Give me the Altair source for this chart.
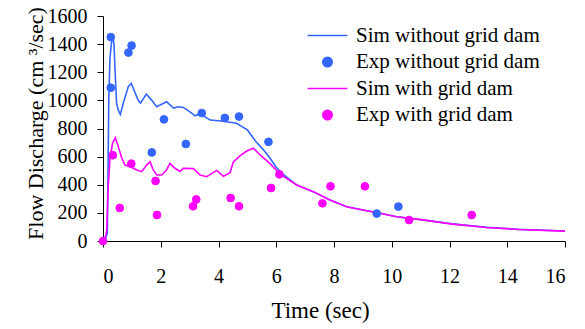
import altair as alt
import pandas as pd

FONT = "Liberation Serif"

# Simulated discharge, no grid dam (time in sec, discharge in cm^3/sec)
sim_without_t = [0.0, 0.1, 0.15, 0.18, 0.2, 0.24, 0.3, 0.35, 0.38, 0.42, 0.47, 0.53, 0.6,
                 0.7, 0.88, 0.98, 1.1, 1.22, 1.3, 1.5, 1.69, 1.86, 2.2, 2.44, 2.6, 2.78,
                 3.0, 3.19, 3.36, 3.71, 4.17, 4.63, 4.8, 5.0, 5.3, 5.55, 5.78, 6.0, 6.2,
                 6.71, 7.28, 7.86, 8.44, 9.0, 9.59, 10.17, 11.0, 12.1, 13.3, 14.4, 16.0]
sim_without_q = [0, 20, 60, 600, 1000, 1300, 1420, 1440, 1400, 1200, 980, 930, 900,
                 980, 1100, 1120, 1060, 1000, 980, 1045, 1000, 955, 990, 945, 955, 950,
                 920, 890, 905, 860, 852, 837, 815, 790, 705, 650, 590, 525, 480,
                 398, 351, 292, 244, 220, 197, 173, 152, 122, 97, 83, 71]

# Simulated discharge, with grid dam
sim_with_t = [0.0, 0.1, 0.13, 0.18, 0.24, 0.33, 0.43, 0.53, 0.65, 0.76, 0.94, 1.17, 1.34,
              1.51, 1.63, 1.74, 1.86, 2.03, 2.2, 2.32, 2.49, 2.67, 2.78, 3.13, 3.36, 3.59,
              3.94, 4.17, 4.4, 4.51, 4.74, 4.98, 5.21, 5.44, 5.78, 6.13, 6.71, 7.28, 7.86,
              8.44, 9.0, 9.59, 10.17, 11.0, 12.1, 13.3, 14.4, 16.0]
sim_with_q = [0, 40, 80, 386, 580, 695, 735, 670, 590, 540, 528, 505, 493,
              540, 564, 505, 469, 469, 505, 552, 517, 495, 517, 515, 469, 457,
              502, 460, 485, 560, 605, 640, 660, 612, 552, 475, 398, 351, 292,
              244, 220, 197, 173, 152, 120, 96, 82, 70]

# Measured discharge
exp_without_t = [0.27, 0.27, 0.88, 0.99, 1.69, 2.11, 2.87, 3.42, 4.22, 4.71, 5.73, 9.48, 10.23]
exp_without_q = [1090, 1450, 1340, 1390, 630, 865, 690, 910, 875, 885, 705, 195, 245]
exp_with_t = [0.0, 0.34, 0.58, 0.98, 1.82, 1.87, 3.12, 3.23, 4.42, 4.71, 5.82, 6.11,
              7.6, 7.88, 9.07, 10.6, 12.77]
exp_with_q = [0, 610, 235, 550, 427, 185, 247, 296, 306, 247, 377, 474,
              268, 389, 389, 149, 185]

series_names = ["Sim without grid dam", "Exp without grid dam",
                "Sim with grid dam", "Exp with grid dam"]
series_colors = ["#3366FF", "#3366FF", "#FF00FF", "#FF00FF"]
# a long horizontal stroke for the simulated series, a dot for the measured ones
line_symbol = "M-4.2,0H4.2"
series_shapes = [line_symbol, "circle", line_symbol, "circle"]

x_ticks = list(range(0, 17, 2))
y_ticks = list(range(0, 1601, 200))

sim_df = pd.concat([
    pd.DataFrame({"t": sim_without_t, "q": sim_without_q, "series": series_names[0]}),
    pd.DataFrame({"t": sim_with_t, "q": sim_with_q, "series": series_names[2]}),
])
exp_df = pd.concat([
    pd.DataFrame({"t": exp_without_t, "q": exp_without_q, "series": series_names[1]}),
    pd.DataFrame({"t": exp_with_t, "q": exp_with_q, "series": series_names[3]}),
])

x_enc = alt.X(
    "t:Q",
    scale=alt.Scale(domain=[0, 16], nice=False, zero=False),
    axis=alt.Axis(values=x_ticks, format="d", title="Time (sec)", tickSize=6, labelPadding=19,
                  labelFont=FONT, labelFontSize=20, titleFont=FONT, titleFontSize=23,
                  titleX=217, titleY=76, titleBaseline="alphabetic", titleAlign="center"),
)
y_enc = alt.Y(
    "q:Q",
    scale=alt.Scale(domain=[0, 1600], nice=False),
    axis=alt.Axis(values=y_ticks, format="d", title="Flow Discharge (cm ³/sec)", tickSize=6,
                  labelPadding=10, labelFont=FONT, labelFontSize=20, titleFont=FONT,
                  titleFontSize=22, titleAngle=270, titleX=-61, titleY=107,
                  titleBaseline="alphabetic", titleAlign="center"),
)

legend = alt.Legend(
    title=None, orient="none", legendX=214, legendY=9,
    labelFont=FONT, labelFontSize=21, labelColor="black", labelOffset=18,
    labelLimit=400, rowPadding=4.5, symbolSize=90, symbolStrokeWidth=1.5,
)

stroke_scale = alt.Scale(domain=series_names, range=series_colors)
fill_scale = alt.Scale(domain=series_names, range=series_colors)
shape_scale = alt.Scale(domain=series_names, range=series_shapes)

lines = alt.Chart(sim_df).mark_line(strokeWidth=1.6).encode(
    x=x_enc,
    y=y_enc,
    stroke=alt.Stroke("series:N", scale=stroke_scale, legend=legend),
)

points = alt.Chart(exp_df).mark_point(filled=True, size=60, opacity=1, strokeWidth=1).encode(
    x=x_enc,
    y=y_enc,
    fill=alt.Fill("series:N", scale=fill_scale, legend=legend),
    stroke=alt.Stroke("series:N", scale=stroke_scale, legend=legend),
    shape=alt.Shape("series:N", scale=shape_scale, legend=legend),
)

chart = alt.layer(lines, points).properties(
    width=462,
    height=225,
    padding={"left": 103, "top": 16, "right": 20, "bottom": 88},
    autosize=alt.AutoSizeParams(type="none"),
    background="white",
).configure(
    font=FONT
).configure_view(
    stroke=None
).configure_axis(
    grid=False,
    domainColor="black",
    tickColor="black",
    labelColor="black",
    titleColor="black",
    labelFont=FONT,
    titleFont=FONT,
    titleFontWeight="normal",
    domainWidth=1,
    tickWidth=1,
)

chart.save("out.html", embed_options={"renderer": "svg", "actions": False})
